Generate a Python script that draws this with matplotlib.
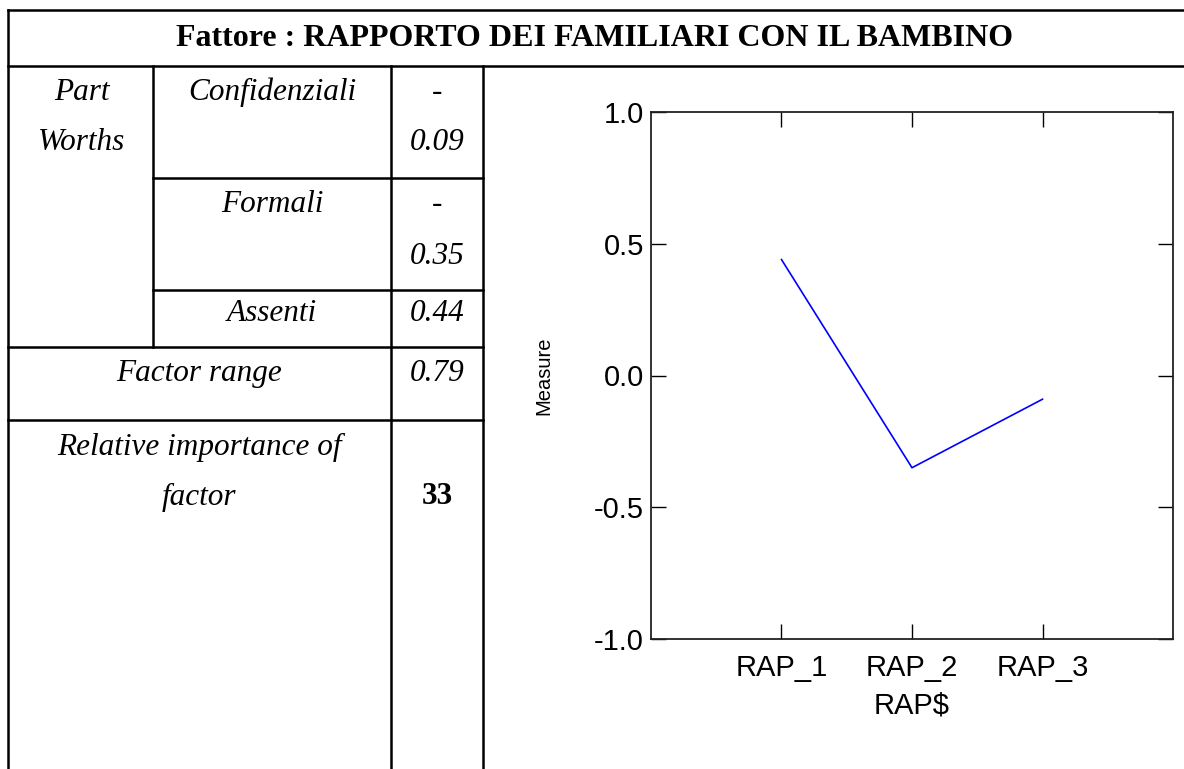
import matplotlib.pyplot as plt
from matplotlib.lines import Line2D

# data
levels = ["RAP_1", "RAP_2", "RAP_3"]
part_worths = [0.44, -0.35, -0.09]
level_names = ["Confidenziali", "Formali", "Assenti"]
worth_labels = [["-", "0.09"], ["-", "0.35"], ["0.44"]]
factor_range = "0.79"
importance = "33"

W, H = 1184, 769
fig = plt.figure(figsize=(W / 100, H / 100), dpi=100)
fig.patch.set_facecolor("white")


def fx(x):
    return x / W


def fy(y):
    return 1 - y / H


def hline(y, x0, x1):
    fig.add_artist(Line2D([fx(x0), fx(x1)], [fy(y), fy(y)], color="black", lw=1.8))


def vline(x, y0, y1):
    fig.add_artist(Line2D([fx(x), fx(x)], [fy(y0), fy(y1)], color="black", lw=1.8))


def cell(x, y, s, bold=False, italic=True):
    fig.text(fx(x), fy(y), s, ha="center", va="center",
             family="Liberation Serif", fontsize=22.5,
             style="italic" if italic else "normal",
             weight="bold" if bold else "normal")


# table grid
hline(10, 8, W)
hline(66, 8, W)
vline(8, 10, H)
vline(153, 66, 347)
vline(391, 66, H)
vline(483, 66, H)
hline(178, 153, 483)
hline(290, 153, 483)
hline(347, 8, 483)
hline(420, 8, 483)

fig.text(fx(595), fy(38), "Fattore : RAPPORTO DEI FAMILIARI CON IL BAMBINO",
         ha="center", va="center", family="Liberation Serif", fontsize=23, weight="bold")

cell(82, 92, "Part")
cell(82, 142, "Worths")
row_y = [(92, 142), (204, 257), (314,)]
for name, vals, ys in zip(level_names, worth_labels, row_y):
    cell(272, ys[0], name)
    for v, yy in zip(vals, ys):
        cell(437, yy, v)
cell(199, 374, "Factor range")
cell(437, 374, factor_range)
cell(199, 447, "Relative importance of")
cell(199, 497, "factor")
cell(437, 497, importance, bold=True, italic=False)

# chart
ax = fig.add_axes([fx(651), fy(639), fx(1173) - fx(651), fy(112) - fy(639)])
xpos = list(range(1, len(levels) + 1))
ax.plot(xpos, part_worths, color="blue", lw=1.2)
ax.set_xlim(0, 4)
ax.set_ylim(-1, 1)
ax.set_xticks(xpos)
ax.set_xticklabels(levels)
ax.set_yticks([-1.0, -0.5, 0.0, 0.5, 1.0])
ax.set_yticklabels(["-1.0", "-0.5", "0.0", "0.5", "1.0"])
ax.tick_params(direction="in", length=11, width=1, top=True, right=True,
               labelsize=21)
ax.tick_params(axis="x", pad=11)
ax.tick_params(axis="y", pad=5)
for lab in ax.get_xticklabels() + ax.get_yticklabels():
    lab.set_family("Liberation Sans")
for sp in ax.spines.values():
    sp.set_linewidth(1.3)
    sp.set_color("#222222")
ax.set_xlabel("RAP$", family="Liberation Sans", fontsize=21, labelpad=7)
ax.set_ylabel("Measure", family="Liberation Sans", fontsize=14.5, labelpad=29)

fig.savefig("out.png", dpi=100, facecolor="white")
